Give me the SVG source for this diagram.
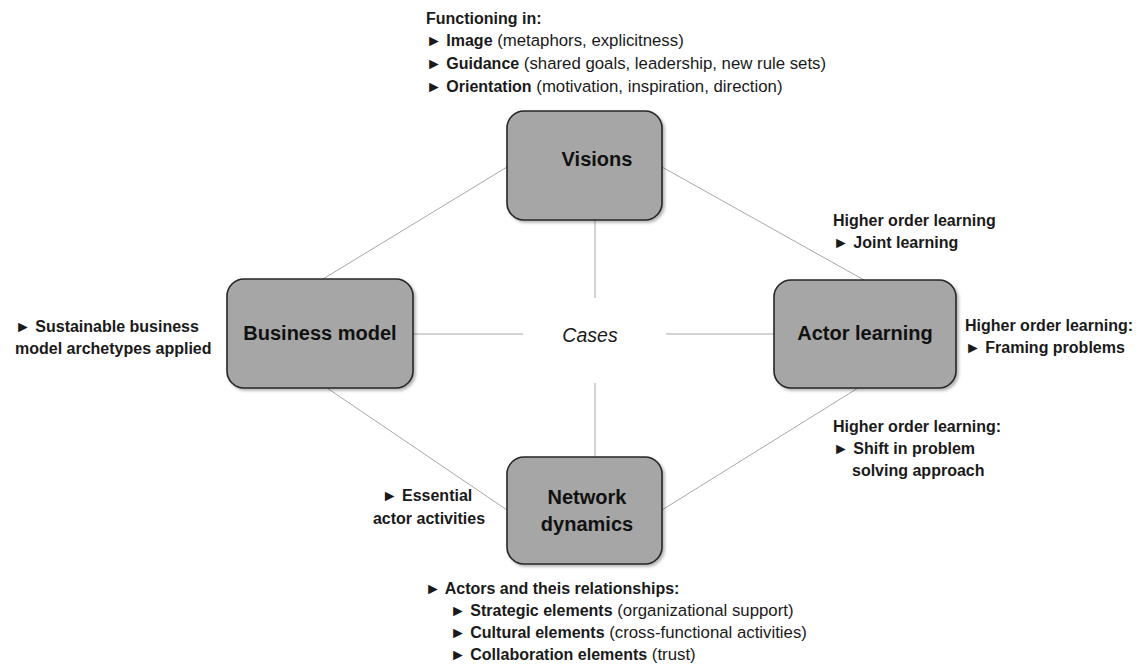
<svg xmlns="http://www.w3.org/2000/svg" width="1140" height="666" viewBox="0 0 1140 666">
<style>
text{font-family:"Liberation Sans",Arial,sans-serif;fill:#1a1a1a}
.t{font-size:16px}
.r{font-size:16.8px}
.b{font-weight:bold}
.box{fill:#a6a6a6;stroke:#262626;stroke-width:1.6}
.lbl{font-size:20px;font-weight:bold;text-anchor:middle;fill:#111}
.ln{stroke:#a8a8a8;stroke-width:1;fill:none}
</style>
<defs>
<filter id="sh" x="-10%" y="-10%" width="130%" height="130%">
<feDropShadow dx="2" dy="2" stdDeviation="1.5" flood-color="#000" flood-opacity="0.3"/>
</filter>
</defs>
<rect width="1140" height="666" fill="#fff"/>
<g id="connectors">
<line class="ln" x1="507" y1="167" x2="323" y2="279"/>
<line class="ln" x1="662" y1="167" x2="864" y2="280"/>
<line class="ln" x1="327" y1="388" x2="507" y2="510"/>
<line class="ln" x1="858" y1="388" x2="662" y2="510"/>
<line class="ln" x1="595" y1="220" x2="595" y2="298"/>
<line class="ln" x1="595" y1="383" x2="595" y2="457"/>
<line class="ln" x1="413" y1="334" x2="523" y2="334"/>
<line class="ln" x1="666" y1="334" x2="774" y2="334"/>
</g>
<g id="visions">
<rect class="box" x="507" y="111" width="155" height="109" rx="17" filter="url(#sh)"/>
<text class="lbl" x="597" y="166">Visions</text>
</g>
<g id="business-model">
<rect class="box" x="227" y="279" width="186" height="109" rx="17" filter="url(#sh)"/>
<text class="lbl" x="320" y="340">Business model</text>
</g>
<g id="actor-learning">
<rect class="box" x="774" y="280" width="182" height="108" rx="17" filter="url(#sh)"/>
<text class="lbl" x="865" y="340">Actor learning</text>
</g>
<g id="network-dynamics">
<rect class="box" x="507" y="457" width="155" height="107" rx="17" filter="url(#sh)"/>
<text class="lbl" x="587" y="504">Network</text>
<text class="lbl" x="587" y="531">dynamics</text>
</g>
<g id="cases">
<text x="590" y="342" style="font-size:19.5px;font-style:italic;text-anchor:middle">Cases</text>
</g>
<g id="visions-notes" class="t">
<text x="426" y="24" class="b">Functioning in:</text>
<text x="426" y="46"><tspan class="b">► Image</tspan><tspan class="r"> (metaphors, explicitness)</tspan></text>
<text x="426" y="69"><tspan class="b">► Guidance</tspan><tspan class="r"> (shared goals, leadership, new rule sets)</tspan></text>
<text x="426" y="92"><tspan class="b">► Orientation</tspan><tspan class="r"> (motivation, inspiration, direction)</tspan></text>
</g>
<g id="business-notes" class="t b">
<text x="15" y="332">► Sustainable business</text>
<text x="15" y="354">model archetypes applied</text>
</g>
<g id="actor-notes" class="t b">
<text x="833" y="226">Higher order learning</text>
<text x="833" y="248">► Joint learning</text>
<text x="965" y="331">Higher order learning:</text>
<text x="965" y="353">► Framing problems</text>
<text x="833" y="432">Higher order learning:</text>
<text x="833" y="454">► Shift in problem</text>
<text x="852" y="476">solving approach</text>
</g>
<g id="network-notes" class="t">
<text x="427" y="501" class="b" style="text-anchor:middle">► Essential</text>
<text x="429" y="524" class="b" style="text-anchor:middle">actor activities</text>
<text x="425" y="594" class="b">► Actors and theis relationships:</text>
<text x="450" y="616"><tspan class="b">► Strategic elements</tspan><tspan class="r"> (organizational support)</tspan></text>
<text x="450" y="638"><tspan class="b">► Cultural elements</tspan><tspan class="r"> (cross-functional activities)</tspan></text>
<text x="450" y="660"><tspan class="b">► Collaboration elements</tspan><tspan class="r"> (trust)</tspan></text>
</g>
</svg>
